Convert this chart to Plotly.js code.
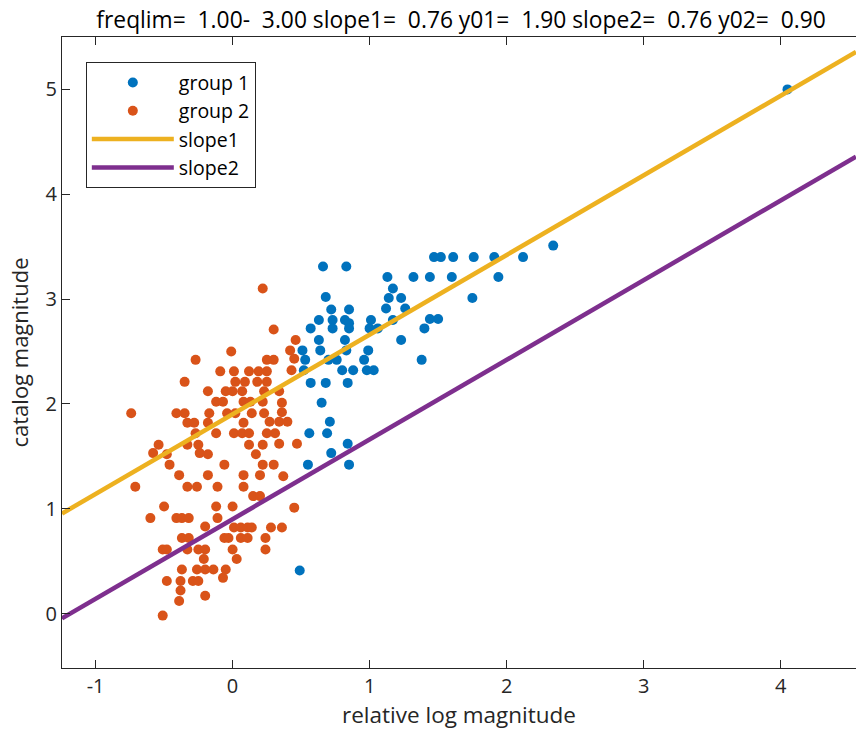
<!DOCTYPE html>
<html>
<head>
<meta charset="utf-8">
<script src="https://cdn.plot.ly/plotly-3.0.1.min.js"></script>
<style>html,body{margin:0;padding:0;background:#fff;}#chart{width:856px;height:741px;}</style>
</head>
<body>
<div id="chart"></div>
<script>
// fit parameters
const freqlim = [1.00, 3.00];
const slope1 = 0.76, y01 = 1.90;
const slope2 = 0.76, y02 = 0.90;

// group 1 (blue)
const g1x = [4.05, 2.34, 1.47, 1.52, 1.61, 1.76, 1.91, 2.12, 1.13, 1.32, 1.44, 1.60, 1.94, 1.17,
  1.14, 1.23, 1.75, 1.12, 1.26, 1.17, 1.44, 1.50, 1.40, 1.23, 1.38,
  0.66, 0.83, 0.68, 0.72, 0.85, 0.63, 0.73, 0.82, 0.85, 1.01,
  0.57, 0.73, 0.85, 1.00, 1.06, 0.63, 0.82, 0.51, 0.64, 0.83, 0.99,
  0.53, 0.70, 0.76, 0.96, 0.52, 0.80, 0.88, 0.98, 1.03, 0.57, 0.68, 0.84,
  0.65, 0.71, 0.56, 0.69, 0.84, 0.72, 0.55, 0.85, 0.49];
const g1y = [5.00, 3.51, 3.40, 3.40, 3.40, 3.40, 3.40, 3.40, 3.21, 3.21, 3.21, 3.21, 3.21, 3.10,
  3.01, 3.01, 3.01, 2.91, 2.91, 2.80, 2.81, 2.81, 2.72, 2.61, 2.42,
  3.31, 3.31, 3.02, 2.90, 2.90, 2.80, 2.80, 2.80, 2.77, 2.80,
  2.72, 2.72, 2.72, 2.72, 2.72, 2.61, 2.61, 2.51, 2.51, 2.51, 2.51,
  2.42, 2.42, 2.42, 2.42, 2.32, 2.32, 2.32, 2.32, 2.32, 2.20, 2.20, 2.20,
  2.01, 1.83, 1.72, 1.72, 1.62, 1.53, 1.42, 1.42, 0.41];

// group 2 (orange)
const g2x = [0.22, 0.30, 0.46, 0.42, -0.01, 0.45, 0.30, 0.25, -0.27,
  0.43, -0.09, 0.01, 0.12, 0.19, 0.25,
  -0.35, 0.02, 0.09, 0.18, 0.25,
  0.34, -0.18, -0.05, 0.00, 0.07, 0.23,
  0.36, -0.12, -0.07, 0.08, 0.13, 0.22,
  0.36, -0.74, -0.41, -0.35, -0.17, -0.04, 0.02, 0.14, 0.23,
  0.27, 0.34, 0.40, -0.33, -0.28, -0.18, 0.08,
  0.31, -0.27, -0.12, 0.01, 0.07, 0.12, 0.25,
  0.34, 0.47, -0.54, -0.33, -0.25, 0.12, 0.22,
  -0.58, -0.48, -0.24, -0.18, 0.17,
  0.30, -0.46, -0.06, 0.22,
  0.37, -0.39, -0.18, 0.08, 0.20,
  -0.71, -0.33, -0.26, -0.11, 0.08,
  0.15, 0.20,
  0.45, -0.50, -0.12, 0.00,
  -0.60, -0.41, -0.37, -0.32, -0.11,
  -0.20, 0.01, 0.06, 0.11, 0.14, 0.28, 0.36,
  -0.37, -0.32, -0.06, -0.03, 0.06, 0.11, 0.24,
  -0.51, -0.48, -0.33, -0.25, -0.20, 0.00, 0.24,
  -0.21, 0.03,
  -0.37, -0.26, -0.20, -0.14, -0.05,
  -0.48, -0.38, -0.29, -0.25, -0.07,
  -0.38, -0.20, -0.39, -0.51];
const g2y = [3.10, 2.71, 2.61, 2.51, 2.50, 2.43, 2.42, 2.42, 2.42,
  2.32, 2.31, 2.31, 2.31, 2.31, 2.31,
  2.21, 2.21, 2.21, 2.21, 2.21,
  2.12, 2.12, 2.12, 2.12, 2.12, 2.12,
  2.01, 2.02, 2.02, 2.02, 2.02, 2.02,
  1.92, 1.91, 1.91, 1.91, 1.91, 1.91, 1.91, 1.91, 1.91,
  1.83, 1.83, 1.83, 1.82, 1.82, 1.82, 1.82,
  1.72, 1.72, 1.72, 1.72, 1.72, 1.72, 1.72,
  1.62, 1.62, 1.61, 1.61, 1.61, 1.61, 1.61,
  1.53, 1.52, 1.53, 1.52, 1.52,
  1.42, 1.42, 1.42, 1.42,
  1.31, 1.32, 1.32, 1.32, 1.32,
  1.21, 1.21, 1.21, 1.21, 1.21,
  1.12, 1.12,
  1.01, 1.02, 1.02, 1.02,
  0.91, 0.91, 0.91, 0.91, 0.91,
  0.83, 0.82, 0.82, 0.82, 0.82, 0.82, 0.82,
  0.72, 0.72, 0.72, 0.72, 0.72, 0.72, 0.72,
  0.61, 0.61, 0.61, 0.61, 0.61, 0.61, 0.61,
  0.52, 0.52,
  0.42, 0.42, 0.42, 0.42, 0.42,
  0.31, 0.31, 0.31, 0.31, 0.34,
  0.22, 0.17, 0.12, -0.02];

const xTicks = [-1, 0, 1, 2, 3, 4];
const yTicks = [0, 1, 2, 3, 4, 5];
const xRange = [-1.245, 4.55];
const yRange = [-0.52, 5.5];

const lineX = xRange.slice();
const line1Y = lineX.map(x => slope1 * x + y01);
const line2Y = lineX.map(x => slope2 * x + y02);

const f2 = v => v.toFixed(2).padStart(6, ' ');
const titleText = ('freqlim=' + f2(freqlim[0]) + '-' + f2(freqlim[1]) +
  ' slope1=' + f2(slope1) + ' y01=' + f2(y01) +
  ' slope2=' + f2(slope2) + ' y02=' + f2(y02)).replace(/ /g, '\u00A0');

const FONT = '"Open Sans", "Noto Sans", sans-serif';
const AX = '#262626';

const traces = [
  {x: g1x, y: g1y, mode: 'markers', type: 'scatter', name: 'group 1',
   marker: {color: '#0072BD', size: 10, line: {width: 0}}},
  {x: g2x, y: g2y, mode: 'markers', type: 'scatter', name: 'group 2',
   marker: {color: '#D95319', size: 10, line: {width: 0}}},
  {x: lineX, y: line1Y, mode: 'lines', type: 'scatter', name: 'slope1',
   line: {color: '#EDB120', width: 4.5}},
  {x: lineX, y: line2Y, mode: 'lines', type: 'scatter', name: 'slope2',
   line: {color: '#7E2F8E', width: 4.5}}
];

const layout = {
  width: 856, height: 741,
  margin: {l: 62, r: 0, t: 37, b: 73},
  paper_bgcolor: '#fff', plot_bgcolor: '#fff',
  font: {family: FONT, color: AX, size: 18},
  title: {text: titleText, font: {family: FONT, size: 22.8, color: '#000'},
          x: 0.5386, xanchor: 'center', y: 0.973, yanchor: 'middle'},
  xaxis: {
    range: xRange, tickvals: xTicks, ticktext: xTicks.map(String),
    showgrid: false, zeroline: false, showline: true, linecolor: AX, linewidth: 1,
    mirror: 'ticks', ticks: 'inside', ticklen: 8, tickcolor: AX,
    tickfont: {family: FONT, size: 20, color: AX},
    title: {text: 'relative log magnitude', font: {family: FONT, size: 22.5, color: AX}, standoff: 4}
  },
  yaxis: {
    range: yRange, tickvals: yTicks, ticktext: yTicks.map(String),
    showgrid: false, zeroline: false, showline: true, linecolor: AX, linewidth: 1,
    mirror: false, ticks: 'inside', ticklen: 8, tickcolor: AX,
    tickfont: {family: FONT, size: 20, color: AX},
    title: {text: 'catalog magnitude', font: {family: FONT, size: 22, color: AX}, standoff: 10}
  },
  legend: {
    x: 0.03, y: 0.96, xanchor: 'left', yanchor: 'top',
    bgcolor: '#fff', bordercolor: AX, borderwidth: 1,
    font: {family: FONT, size: 19.5, color: '#000'},
    itemwidth: 82
  },
  showlegend: true
};

Plotly.newPlot('chart', traces, layout, {displayModeBar: false, staticPlot: true});
</script>
</body>
</html>
